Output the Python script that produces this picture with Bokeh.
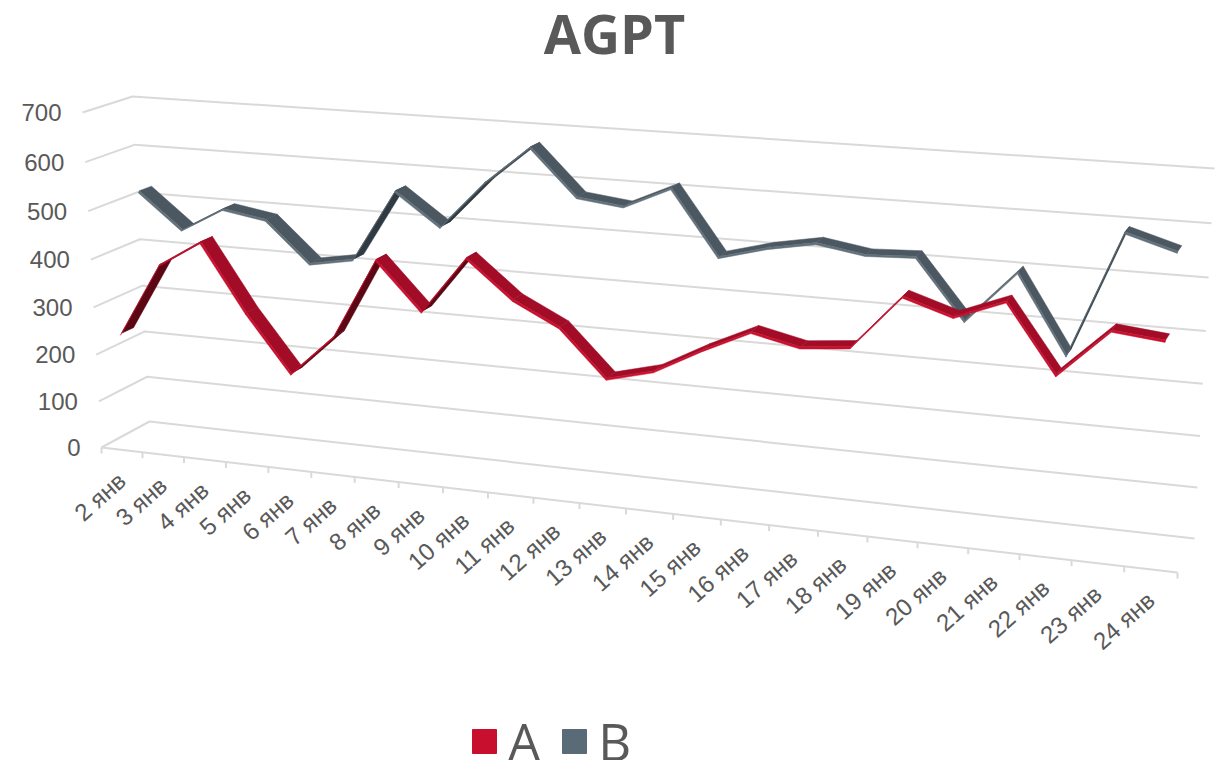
from bokeh.plotting import figure
from bokeh.models import Range1d, Legend, LegendItem
from bokeh.core.properties import value
from bokeh.embed import file_html
from bokeh.resources import INLINE

title_text = "AGPT"
categories = ["2 янв","3 янв","4 янв","5 янв","6 янв","7 янв","8 янв","9 янв","10 янв","11 янв","12 янв","13 янв",
              "14 янв","15 янв","16 янв","17 янв","18 янв","19 янв","20 янв","21 янв","22 янв","23 янв","24 янв"]
series_a = [244,396,451,313,196,281,445,349,464,389,343,250,274,324,368,347,356,460,430,467,339,430,420]
series_b = [521,448,498,483,400,416,562,497,592,668,577,566,608,482,507,524,509,513,399,499,351,588,560]
y_ticks = [0,100,200,300,400,500,600,700]

GREY = "#595959"
GRID = "#D9D9D9"

# perspective box: corners on the page, (front/back, left/right, bottom/top)
FL0, FR0, BL0, BR0 = (101,447), (1177,572), (149,421), (1194,538)
FL7, FR7, BL7, BR7 = (82,112), (1200,187), (132,96), (1214,168)
R = 1.147
Q = 1.044

def lerp(a, b, f):
    return (a[0]+(b[0]-a[0])*f, a[1]+(b[1]-a[1])*f)

def P(t, v, d):
    s = t/(t+R*(1-t))
    g = v/700
    f = g/(g+Q*(1-g))
    bottom = lerp(lerp(FL0, FR0, s), lerp(BL0, BR0, s), d)
    top = lerp(lerp(FL7, FR7, s), lerp(BL7, BR7, s), d)
    return lerp(bottom, top, f)

p = figure(width=1225, height=760, x_range=Range1d(0,1225), y_range=Range1d(760,0),
           toolbar_location=None, output_backend="svg", min_border=0, outline_line_color=None,
           background_fill_color="white", border_fill_color="white", x_axis_type=None, y_axis_type=None)
p.grid.visible = False

# gridlines
for v in y_ticks:
    a, b, c = P(0,v,0), P(0,v,1), P(1,v,1)
    p.line([a[0],b[0],c[0]], [a[1],b[1],c[1]], line_color=GRID, line_width=2)
a, c = P(0,0,0), P(1,0,0)
p.line([a[0],c[0]], [a[1],c[1]], line_color=GRID, line_width=2)

# ticks on the floor's front edge
n = len(categories)
tx0, ty0, tx1, ty1 = [], [], [], []
for k in range(n+1):
    q0, q1 = P(k/n,0,0), (P(k/n,0,0)[0], P(k/n,0,0)[1]+6)
    tx0.append(q0[0]); ty0.append(q0[1]); tx1.append(q1[0]); ty1.append(q1[1])
p.segment(tx0, ty0, tx1, ty1, line_color=GRID, line_width=2)

def ribbon(vals, d1, d2, surf, under, edge):
    m = len(vals)
    sx, sy, sc, ex, ey = [], [], [], [], []
    for i in range(m-1):
        ta = (i+0.5)/m; tb = (i+1.5)/m
        a1, b1 = P(ta,vals[i],d1), P(tb,vals[i+1],d1)
        a2, b2 = P(ta,vals[i],d2), P(tb,vals[i+1],d2)
        sx.append([a1[0],b1[0],b2[0],a2[0]]); sy.append([a1[1],b1[1],b2[1],a2[1]])
        dirx, diry = b1[0]-a1[0], b1[1]-a1[1]
        depx, depy = a2[0]-a1[0], a2[1]-a1[1]
        sc.append(surf if dirx*depy-diry*depx < 0 else under)
        a3, b3 = P(ta,vals[i]-3,d1-0.025), P(tb,vals[i+1]-3,d1-0.025)
        ex.append([a1[0],b1[0],b3[0],a3[0]]); ey.append([a1[1],b1[1],b3[1],a3[1]])
    p.patches(sx, sy, fill_color=sc, line_color=sc, line_width=0.5)
    p.patches(ex, ey, fill_color=edge, line_color=edge, line_width=0.5)

ribbon(series_b, 0.63, 0.88, "#4B5761", "#2F3A42", "#62707A")
ribbon(series_a, 0.12, 0.37, "#A30C26", "#5C0714", "#C8102E")

# y labels
yq = [P(0,v,0) for v in y_ticks]
p.text([q[0]-21 for q in yq], [q[1] for q in yq], text=[str(v) for v in y_ticks],
       text_align="right", text_baseline="middle", text_color=GREY,
       text_font=value("Liberation Sans"), text_font_size="24px")

# category labels
cq = [P((k+0.5)/n,0,0) for k in range(n)]
p.text([q[0] for q in cq], [q[1]+27 for q in cq], text=categories, angle=0.73,
       text_align="right", text_baseline="middle", text_color=GREY,
       text_font=value("Liberation Sans"), text_font_size="24px")

# title
p.text([614], [32], text=[title_text], text_align="center", text_baseline="middle", text_color=GREY,
       text_font=value("Open Sans"), text_font_style="bold", text_font_size="54px")

# legend
ra = p.quad(left=[-50], right=[-40], top=[-50], bottom=[-40], fill_color="#C8102E", line_color="#C8102E")
rb = p.quad(left=[-50], right=[-40], top=[-50], bottom=[-40], fill_color="#5A6B78", line_color="#5A6B78")
leg = Legend(items=[LegendItem(label="A", renderers=[ra]), LegendItem(label="B", renderers=[rb])],
             orientation="horizontal", location=(469, -16), border_line_color=None, background_fill_alpha=0,
             glyph_width=30, glyph_height=30, label_standoff=9, spacing=19, margin=0, padding=2,
             label_text_font="Open Sans", label_text_font_size="51px", label_text_color=GREY,
             label_height=34, label_text_baseline="middle")
p.add_layout(leg)

open("out.html", "w").write(file_html(p, INLINE))
